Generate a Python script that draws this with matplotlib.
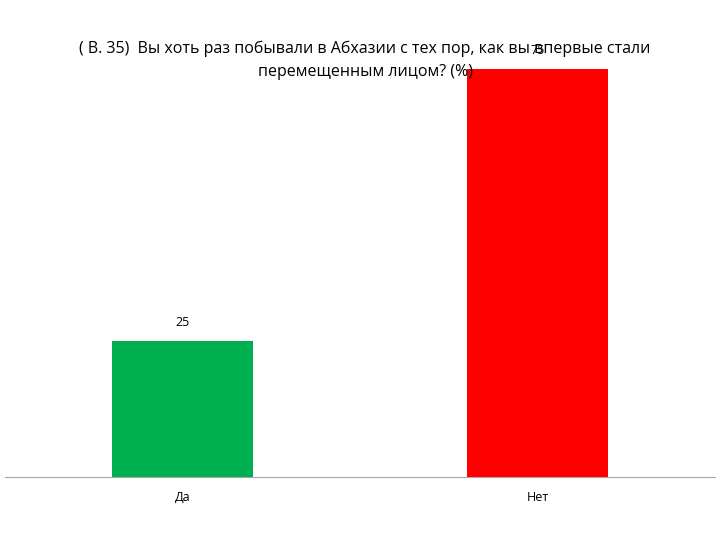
import matplotlib
matplotlib.use("Agg")
import matplotlib.pyplot as plt

categories = ["Да", "Нет"]
values = [25, 75]
colors = ["#00b050", "#ff0000"]

fig = plt.figure(figsize=(7.2, 5.4), dpi=100)
ax = fig.add_axes([0.007, 1 - 477/540, 710/720, (477-69)/540])
x = range(len(categories))
bars = ax.bar(x, values, width=0.397, color=colors)
for xi, v in zip(x, values):
    ax.text(xi, v + 2.2, str(v), ha="center", va="bottom", fontsize=9,
            family="Open Sans", clip_on=False)
ax.set_xlim(-0.5, 1.5)
ax.set_ylim(0, 75)
ax.set_xticks(list(x))
ax.set_xticklabels(categories, family="Open Sans", fontsize=9)
ax.tick_params(axis="x", length=0, pad=10)
ax.set_yticks([])
for s in ["top", "right", "left"]:
    ax.spines[s].set_visible(False)
ax.spines["bottom"].set_color("#a6a6a6")
fig.text(0.507, 1 - 60/540, "( В. 35)  Вы хоть раз побывали в Абхазии с тех пор, как вы впервые стали\nперемещенным лицом? (%)",
         ha="center", va="center", fontsize=11.5, family="Open Sans", linespacing=1.6)
fig.savefig("out.png", dpi=100)
